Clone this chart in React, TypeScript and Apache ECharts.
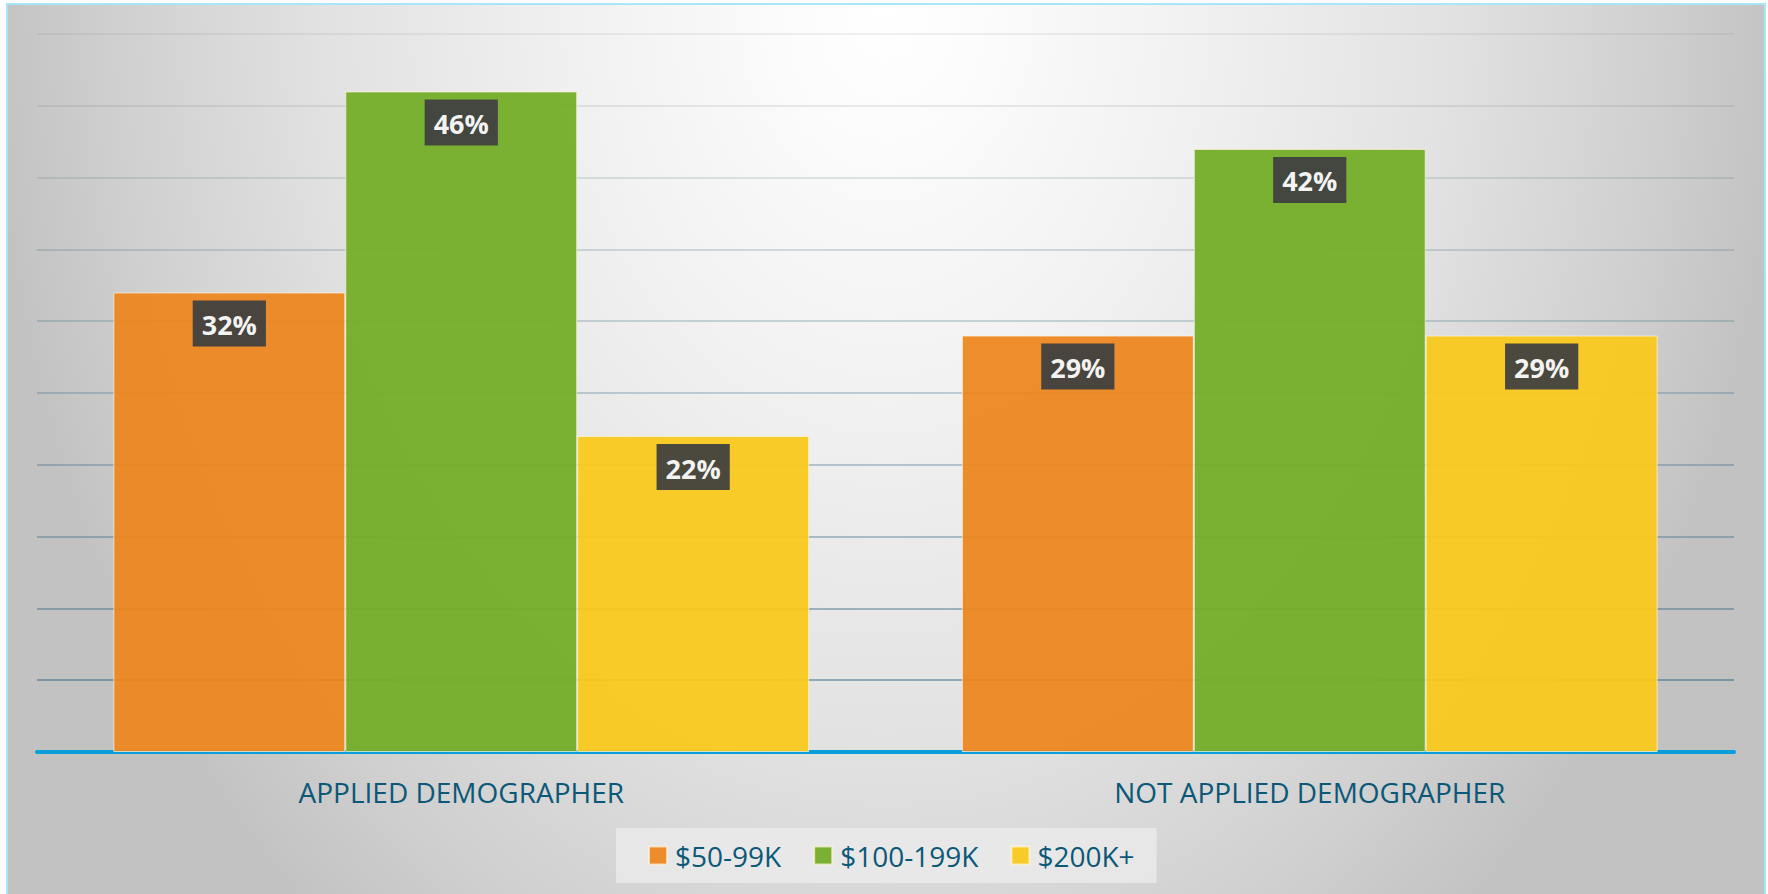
import React, { useEffect, useRef } from "react";
import * as echarts from "echarts";

const categories = ["APPLIED DEMOGRAPHER", "NOT APPLIED DEMOGRAPHER"];
const seriesNames = ["$50-99K", "$100-199K", "$200K+"];
const income50to99 = [32, 29];
const income100to199 = [46, 42];
const income200plus = [22, 29];
const seriesColors = ["#EC861F", "#74AD27", "#F9C91C"];

export default function App() {
  const ref = useRef<HTMLDivElement>(null);

  useEffect(() => {
    if (!ref.current) return;
    const chart = echarts.init(ref.current, null, { renderer: "svg" });
    const values = [income50to99, income100to199, income200plus];
    const textColor = "#0B5878";
    const gridColors = [
      "rgba(40,95,125,0.5)",
      "rgba(40,95,125,0.45)",
      "rgba(45,95,125,0.4)",
      "rgba(50,100,128,0.36)",
      "rgba(55,100,130,0.32)",
      "rgba(60,105,130,0.28)",
      "rgba(65,105,130,0.25)",
      "rgba(70,105,125,0.21)",
      "rgba(80,105,120,0.17)",
      "rgba(90,100,110,0.13)",
      "rgba(100,100,100,0.09)",
    ];
    chart.setOption({
      animation: false,
      backgroundColor: "transparent",
      grid: { left: 37, right: 34, top: 34, bottom: 142, containLabel: false },
      legend: {
        data: seriesNames,
        left: 616,
        top: 828,
        icon: "rect",
        itemWidth: 18,
        itemHeight: 18,
        itemGap: 32,
        backgroundColor: "rgba(236,236,236,0.75)",
        padding: [13, 22, 13, 32],
        textStyle: {
          fontFamily: "Open Sans",
          fontSize: 28,
          color: textColor,
          lineHeight: 29,
          padding: [0, 0, 0, 3],
        },
      },
      xAxis: {
        type: "category",
        data: categories,
        axisLine: { show: true, lineStyle: { color: "#0A9FD9", width: 4 } },
        axisTick: { show: false },
        axisLabel: {
          fontFamily: "Open Sans",
          fontSize: 28,
          color: textColor,
          margin: 26,
        },
        splitLine: { show: false },
      },
      yAxis: {
        type: "value",
        min: 0,
        max: 50,
        interval: 5,
        axisLabel: { show: false },
        axisLine: { show: false },
        axisTick: { show: false },
        splitLine: {
          show: true,
          lineStyle: { color: gridColors, width: 2 },
        },
      },
      series: seriesNames.map((name, i) => ({
        name,
        type: "bar",
        data: values[i],
        barGap: "0%",
        barCategoryGap: "18%",
        itemStyle: {
          color: seriesColors[i],
          opacity: 0.94,
          borderColor: "rgba(255,245,225,0.75)",
          borderWidth: 1,
        },
        label: {
          show: true,
          position: "insideTop",
          distance: 8,
          formatter: "{c}%",
          backgroundColor: "#404040",
          color: "#ffffff",
          fontFamily: "Open Sans",
          fontWeight: "bold",
          fontSize: 27,
          lineHeight: 32,
          padding: [8, 9, 6, 9],
        },
      })),
    });
    return () => chart.dispose();
  }, []);

  return (
    <div
      style={{
        position: "fixed",
        left: 0,
        top: 0,
        width: 1768,
        height: 894,
        background: "#ffffff",
        overflow: "hidden",
      }}
    >
      <div
        style={{
          position: "absolute",
          left: 6,
          top: 3,
          width: 1756,
          height: 900,
          border: "2px solid #A6E6F8",
          background:
            "radial-gradient(ellipse 900px 1190px at 50% 0%, #ffffff 0%, #fbfbfb 12%, #efefef 38%, #e2e2e2 62%, #d0d0d0 85%, #c2c2c2 100%)",
        }}
      />
      <div
        ref={ref}
        style={{ position: "absolute", left: 0, top: 0, width: 1768, height: 894 }}
      />
    </div>
  );
}
